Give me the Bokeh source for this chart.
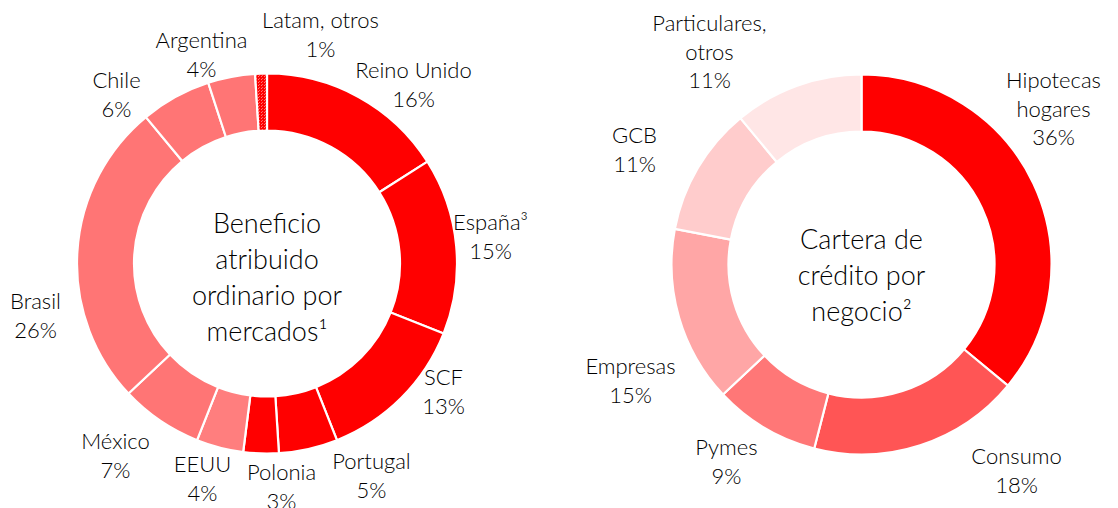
import numpy as np
from bokeh.plotting import figure
from bokeh.models import ColumnDataSource, Range1d
from bokeh.core.properties import value
from bokeh.embed import file_html
from bokeh.resources import INLINE

# ---------------- data ----------------
left_names = ["Reino Unido", "España³", "SCF", "Portugal", "Polonia", "EEUU",
              "México", "Brasil", "Chile", "Argentina", "Latam, otros"]
left_values = [16, 15, 13, 5, 3, 4, 7, 26, 6, 4, 1]

right_names = ["Hipotecas\nhogares", "Consumo", "Pymes", "Empresas", "GCB",
               "Particulares,\notros"]
right_values = [36, 18, 9, 15, 11, 11]

left_title = ["Beneficio", "atribuido", "ordinario por", "mercados¹"]
right_title = ["Cartera de", "crédito por", "negocio²"]

# ---------------- styles / layout ----------------
W, H = 1118, 508
FONT = "Lato Light, Lato"
TXT = "#000000"
left_colors = ["#FF0000"] * 5 + ["#FF7E7E", "#FF7575", "#FF7575", "#FF7575", "#FF7575", "#FFB0B0"]
left_hatch = [""] * 10 + ["criss_cross"]
right_colors = ["#FF0000", "#FF5555", "#FF7777", "#FFA6A6", "#FFCCCC", "#FFE6E6"]

L_C = (266.5, 263)
R_C = (861, 264)
R_OUT, R_IN = 190, 133

left_label_pos = [(413, 69), (490, 221), (443, 376), (371, 460), (281, 471), (202, 463),
                  (115, 440), (35, 300), (116, 79), (201, 39), (320, 19)]
right_label_pos = [(1053, 79), (1016, 455), (726, 446), (630, 365), (634, 134), (709, 22)]
LINE = 28.5


def fy(py):
    return H - py


p = figure(width=W, height=H, output_backend="svg", toolbar_location=None,
           x_range=Range1d(0, W), y_range=Range1d(0, H),
           x_axis_type=None, y_axis_type=None, min_border=0)
p.outline_line_color = None
p.grid.visible = False
p.background_fill_color = "white"
p.border_fill_color = "white"


def donut(center, values, colors, hatches=None):
    v = np.array(values, dtype=float)
    frac = v / v.sum()
    cum = np.concatenate([[0], np.cumsum(frac)])
    start = np.pi / 2 - 2 * np.pi * cum[:-1]
    end = np.pi / 2 - 2 * np.pi * cum[1:]
    data = dict(x=[center[0]] * len(v), y=[fy(center[1])] * len(v),
                start=start, end=end, color=colors)
    if hatches is not None:
        data["hatch"] = hatches
    src = ColumnDataSource(data)
    kw = {}
    if hatches is not None:
        kw = dict(hatch_pattern="hatch", hatch_color="#FF0000", hatch_scale=3,
                  hatch_weight=1.2)
    p.annular_wedge(x="x", y="y", inner_radius=R_IN, outer_radius=R_OUT,
                    start_angle="start", end_angle="end", direction="clock",
                    fill_color="color", line_color="white", line_width=2.2,
                    source=src, **kw)


donut(L_C, left_values, left_colors, left_hatch)
donut(R_C, right_values, right_colors)


def labels(names, values, positions):
    xs, ys, ts = [], [], []
    for name, val, (px, py) in zip(names, values, positions):
        lines = name.split("\n") + [f"{val}%"]
        for i, t in enumerate(lines):
            xs.append(px)
            ys.append(fy(py + i * LINE))
            ts.append(t)
    p.text(x=xs, y=ys, text=ts, text_align="center", text_baseline="middle",
           text_font=value(FONT), text_font_size="22px", text_color=TXT)


labels(left_names, left_values, left_label_pos)
labels(right_names, right_values, right_label_pos)


def title(lines, cx, first_mid, step):
    xs = [cx] * len(lines)
    ys = [fy(first_mid + i * step) for i in range(len(lines))]
    p.text(x=xs, y=ys, text=lines, text_align="center", text_baseline="middle",
           text_font=value(FONT), text_font_size="27px", text_color=TXT)


title(left_title, L_C[0], 222, 36)
title(right_title, R_C[0], 238, 36)

open("out.html", "w").write(file_html(p, INLINE))
